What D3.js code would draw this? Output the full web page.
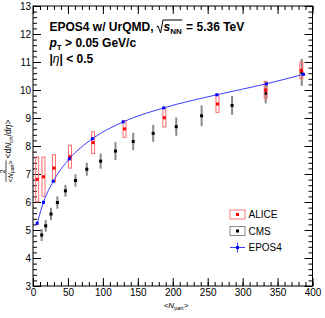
<!DOCTYPE html>
<html>
<head>
<meta charset="utf-8">
<script src="https://cdn.jsdelivr.net/npm/d3@7"></script>
<style>
  body { margin: 0; background: #fff; }
  text { font-family: "Liberation Sans", Arial, Helvetica, sans-serif; white-space: pre; }
</style>
</head>
<body>
<div id="chart"></div>
<script>
// ---------------------------------------------------------------
// Data
// ---------------------------------------------------------------
const eposNpart = [6, 15, 29, 52, 85, 129, 187, 263, 334, 387];
const eposVal   = [5.24, 5.99, 6.74, 7.54, 8.26, 8.86, 9.36, 9.83, 10.22, 10.56];

const aliceNpart = [6, 15, 30, 53, 86, 131, 188, 264, 333, 384];
const aliceVal   = [6.81, 6.90, 7.21, 7.62, 8.12, 8.61, 9.01, 9.50, 10.00, 10.70];
const aliceErr   = [0.80, 0.70, 0.48, 0.41, 0.39, 0.30, 0.33, 0.30, 0.30, 0.30];

const cmsNpart = [12.4, 18.2, 25.8, 34.9, 46.4, 60.8, 77, 96.8, 118, 143.4, 172, 205, 241.3, 284.9, 333, 384.6];
const cmsVal   = [4.82, 5.15, 5.57, 5.98, 6.40, 6.77, 7.17, 7.46, 7.82, 8.16, 8.45, 8.69, 9.08, 9.45, 9.88, 10.63];
const cmsErr   = [0.21, 0.21, 0.22, 0.22, 0.21, 0.22, 0.23, 0.27, 0.32, 0.31, 0.30, 0.33, 0.37, 0.34, 0.36, 0.48];

const xTicks = [0, 50, 100, 150, 200, 250, 300, 350, 400];
const yTicks = [3, 4, 5, 6, 7, 8, 9, 10, 11, 12, 13];

const legendItems = ["ALICE", "CMS", "EPOS4"];

// ---------------------------------------------------------------
// SVG + scales
// ---------------------------------------------------------------
const W = 325, H = 318;
const plot = { left: 33, right: 312.5, top: 6, bottom: 286 };

const svg = d3.select("#chart").append("svg")
  .attr("width", W).attr("height", H);

const x = d3.scaleLinear().domain([0, 400]).range([plot.left, plot.right]);
const y = d3.scaleLinear().domain([3, 13]).range([plot.bottom, plot.top]);

// ---------------------------------------------------------------
// Axes (ROOT style: ticks inside, on all four sides)
// ---------------------------------------------------------------
function addAxis(axis, tx, ty, labels) {
  const g = svg.append("g")
    .attr("transform", `translate(${tx},${ty})`)
    .call(axis);
  g.select(".domain").remove();
  g.selectAll("line").attr("stroke", "#000").attr("stroke-width", 1);
  if (!labels) g.selectAll("text").remove();
  return g;
}

const xMinor = d3.range(0, 401, 10);
const yMinor = d3.range(3, 13.001, 0.2);

addAxis(d3.axisBottom(x).tickValues(xMinor).tickSize(-4).tickFormat(""), 0, plot.bottom, false);
addAxis(d3.axisTop(x).tickValues(xMinor).tickSize(-4).tickFormat(""), 0, plot.top, false);
addAxis(d3.axisLeft(y).tickValues(yMinor).tickSize(-4).tickFormat(""), plot.left, 0, false);
addAxis(d3.axisRight(y).tickValues(yMinor).tickSize(-4).tickFormat(""), plot.right, 0, false);

const gx = addAxis(d3.axisBottom(x).tickValues(xTicks).tickSize(-8).tickPadding(3), 0, plot.bottom, true);
gx.selectAll("text").attr("font-size", "10px").attr("fill", "#000");
addAxis(d3.axisTop(x).tickValues(xTicks).tickSize(-8).tickFormat(""), 0, plot.top, false);

const gy = addAxis(d3.axisLeft(y).tickValues(yTicks).tickSize(-8).tickPadding(2), plot.left, 0, true);
gy.selectAll("text").attr("font-size", "10px").attr("fill", "#000");
addAxis(d3.axisRight(y).tickValues(yTicks).tickSize(-8).tickFormat(""), plot.right, 0, false);

// frame
svg.append("rect")
  .attr("x", plot.left).attr("y", plot.top)
  .attr("width", plot.right - plot.left).attr("height", plot.bottom - plot.top)
  .attr("fill", "none").attr("stroke", "#000").attr("stroke-width", 1);

// ---------------------------------------------------------------
// CMS: grey error bars + black squares
// ---------------------------------------------------------------
const cms = cmsNpart.map((n, i) => ({ n, v: cmsVal[i], e: cmsErr[i] }));
svg.append("g").selectAll("rect").data(cms).join("rect")
  .attr("x", d => x(d.n) - 1)
  .attr("y", d => y(d.v + d.e))
  .attr("width", 2)
  .attr("height", d => y(d.v - d.e) - y(d.v + d.e))
  .attr("fill", "#8a8a8a");
svg.append("g").selectAll("rect").data(cms).join("rect")
  .attr("x", d => x(d.n) - 1.5).attr("y", d => y(d.v) - 1.5)
  .attr("width", 3).attr("height", 3)
  .attr("fill", "#000");

// ---------------------------------------------------------------
// ALICE: open red boxes + red squares
// ---------------------------------------------------------------
const alice = aliceNpart.map((n, i) => ({ n, v: aliceVal[i], e: aliceErr[i] }));
svg.append("g").selectAll("rect").data(alice).join("rect")
  .attr("x", d => x(d.n) - 1.5)
  .attr("y", d => y(d.v + d.e))
  .attr("width", 3)
  .attr("height", d => y(d.v - d.e) - y(d.v + d.e))
  .attr("fill", "none")
  .attr("stroke", "#ff6a6a").attr("stroke-width", 1);
svg.append("g").selectAll("rect").data(alice).join("rect")
  .attr("x", d => x(d.n) - 1.5).attr("y", d => y(d.v) - 1.5)
  .attr("width", 3).attr("height", 3)
  .attr("fill", "#f00");

// ---------------------------------------------------------------
// EPOS4: blue curve + squares
// ---------------------------------------------------------------
const epos = eposNpart.map((n, i) => ({ n, v: eposVal[i] }));
svg.append("path")
  .datum(epos)
  .attr("d", d3.line().x(d => x(d.n)).y(d => y(d.v)).curve(d3.curveMonotoneX))
  .attr("fill", "none")
  .attr("stroke", "#3c3cff").attr("stroke-width", 1);
svg.append("g").selectAll("rect").data(epos).join("rect")
  .attr("x", d => x(d.n) - 1.5).attr("y", d => y(d.v) - 1.5)
  .attr("width", 3).attr("height", 3)
  .attr("fill", "#00f");

// ---------------------------------------------------------------
// Legend
// ---------------------------------------------------------------
const lg = svg.append("g").attr("transform", "translate(230,210)");
legendItems.forEach((name, i) => {
  const row = lg.append("g").attr("transform", `translate(0,${i * 16.5})`);
  if (name === "ALICE" || name === "CMS") {
    row.append("rect")
      .attr("x", 0).attr("y", 0).attr("width", 15).attr("height", 9)
      .attr("fill", "none")
      .attr("stroke", name === "ALICE" ? "#ff7a7a" : "#888")
      .attr("stroke-width", 1);
    row.append("rect")
      .attr("x", 6).attr("y", 3).attr("width", 3).attr("height", 3)
      .attr("fill", name === "ALICE" ? "#f00" : "#000");
  } else {
    row.append("line").attr("x1", 0).attr("x2", 15).attr("y1", 4.5).attr("y2", 4.5)
      .attr("stroke", "#3c3cff");
    row.append("line").attr("x1", 7.5).attr("x2", 7.5).attr("y1", -0.5).attr("y2", 9.5)
      .attr("stroke", "#3c3cff");
    row.append("rect")
      .attr("x", 6).attr("y", 3).attr("width", 3).attr("height", 3)
      .attr("fill", "#00f");
  }
  row.append("text")
    .attr("x", 18.5).attr("y", 8)
    .attr("font-size", "10px").attr("fill", "#000")
    .text(name);
});

// ---------------------------------------------------------------
// Text block (top left)
// ---------------------------------------------------------------
// writes runs one after another, returns the x positions
function richLine(x0, y0, runs) {
  let cx = x0;
  const pos = [];
  runs.forEach(r => {
    const t = svg.append("text")
      .attr("x", cx).attr("y", y0 + (r.dy || 0))
      .attr("font-size", r.size + "px")
      .attr("font-weight", r.bold ? "bold" : "normal")
      .attr("font-style", r.italic ? "italic" : "normal")
      .attr("fill", "#000")
      .text(r.t);
    const w = t.node().getComputedTextLength();
    pos.push([cx, cx + w]);
    cx += w + (r.gap || 0);
  });
  return pos;
}

const p1 = richLine(49.5, 31, [
  { t: "EPOS4 w/ UrQMD,", size: 12, bold: true, gap: 10 },
  { t: "s", size: 12, bold: true, italic: true },
  { t: "NN", size: 8, bold: true, dy: 3, gap: 1 },
  { t: " = 5.36 TeV", size: 12, bold: true }
]);
// radical sign over s_NN
{
  const r0 = p1[1][0] - 5.5, r1 = p1[2][1] + 0.5, base = 31;
  svg.append("path")
    .attr("d", `M${r0 - 1.5},${base - 4} L${r0},${base - 5} L${r0 + 2.5},${base + 2} L${r0 + 5},${base - 11} L${r1},${base - 11}`)
    .attr("fill", "none").attr("stroke", "#000").attr("stroke-width", 1);
}

richLine(49.5, 47, [
  { t: "p", size: 12, bold: true, italic: true },
  { t: "T", size: 8, bold: true, dy: 3 },
  { t: " > 0.05 GeV/c", size: 12, bold: true }
]);

richLine(49.5, 63, [
  { t: "|", size: 12, bold: true },
  { t: "η", size: 12, italic: true },
  { t: "| < 0.5", size: 12, bold: true }
]);

// ---------------------------------------------------------------
// Axis titles
// ---------------------------------------------------------------
const xt = svg.append("text")
  .attr("x", 176).attr("y", 308)
  .attr("text-anchor", "middle")
  .attr("font-size", "8px").attr("fill", "#000");
xt.append("tspan").text("<");
xt.append("tspan").attr("font-style", "italic").text("N");
xt.append("tspan").attr("font-size", "5.5px").attr("dy", 1.5).text("part");
xt.append("tspan").attr("dy", -1.5).text(">");

const yl = svg.append("g").attr("transform", "rotate(-90)");
// fraction 2 / <N_part>
yl.append("line")
  .attr("x1", -182).attr("x2", -160.5).attr("y1", 6).attr("y2", 6)
  .attr("stroke", "#000").attr("stroke-width", 0.7);
yl.append("text")
  .attr("x", -171.3).attr("y", 4.8)
  .attr("text-anchor", "middle").attr("font-size", "7px").attr("fill", "#000")
  .text("2");
const den = yl.append("text")
  .attr("x", -171.3).attr("y", 12.6)
  .attr("text-anchor", "middle").attr("font-size", "7px").attr("fill", "#000");
den.append("tspan").text("<");
den.append("tspan").attr("font-style", "italic").text("N");
den.append("tspan").attr("font-size", "5px").attr("dy", 1.2).text("part");
den.append("tspan").attr("dy", -1.2).text(">");

const num = yl.append("text")
  .attr("x", -158.5).attr("y", 11.2)
  .attr("font-size", "8.5px").attr("fill", "#000");
num.append("tspan").text("<d");
num.append("tspan").attr("font-style", "italic").text("N");
num.append("tspan").attr("font-size", "6px").attr("dy", 1.5).text("ch");
num.append("tspan").attr("dy", -1.5).text("/d");
num.append("tspan").attr("font-style", "italic").text("η");
num.append("tspan").text(">");
</script>
</body>
</html>
